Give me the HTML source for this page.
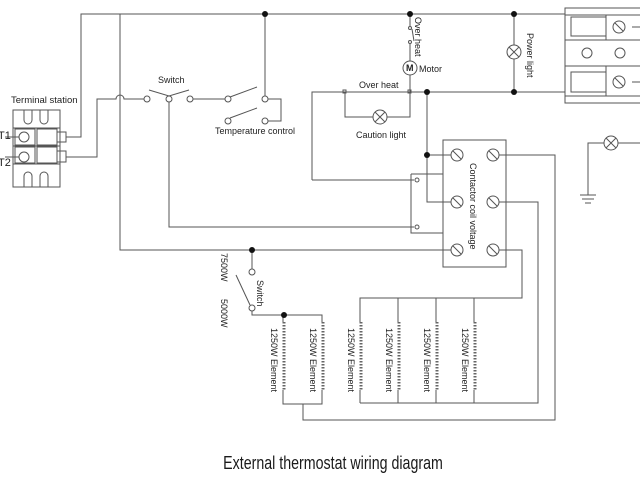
<!DOCTYPE html>
<html><head><style>
html,body{margin:0;padding:0;background:#fff;width:640px;height:480px;overflow:hidden}
text{font-family:"Liberation Sans",sans-serif;fill:#222}
</style></head><body>
<svg width="640" height="480" viewBox="0 0 640 480" xmlns="http://www.w3.org/2000/svg">
<g stroke="#555" stroke-width="1" fill="none">
<path d="M66 137 H81 V14 H565"/>
<path d="M66 157 H97 V99 H116 A4 4 0 0 1 124 99 H144"/>
<path d="M120 14 V250 H451"/>
<circle cx="147" cy="99" r="3" fill="#fff"/><circle cx="169" cy="99" r="3" fill="#fff"/><circle cx="190" cy="99" r="3" fill="#fff"/>
<path d="M149 90 L169 96 L189 90"/>
<path d="M169 102 V227 H414"/>
<path d="M193 99 H225"/>
<circle cx="228" cy="99" r="3" fill="#fff"/><circle cx="265" cy="99" r="3" fill="#fff"/>
<circle cx="228" cy="121" r="3" fill="#fff"/><circle cx="265" cy="121" r="3" fill="#fff"/>
<path d="M230 97 L257 87 M230 118 L257 108"/>
<path d="M265 14 V96 M268 99 H281 V121 H268"/>
<path d="M410 14 V26 M410 44 V61 M410 75 V92"/>
<circle cx="410" cy="28" r="1.5"/><circle cx="410" cy="42" r="1.5"/>
<path d="M412 29 L414 41"/>
<circle cx="410" cy="68" r="7"/>
<path d="M312 180 V92 H565"/>
<rect x="343" y="90" width="3" height="3"/><rect x="408" y="90" width="3" height="3"/>
<path d="M345 92 V117 H373 M387 117 H410 V92"/>
<circle cx="380" cy="117" r="7"/><path d="M375 112 L385 122 M385 112 L375 122"/>
<path d="M514 14 V45 M514 59 V92"/>
<circle cx="514" cy="52" r="7"/><path d="M509 47 L519 57 M519 47 L509 57"/>
<rect x="443" y="140" width="63" height="127"/>
<path d="M427 92 V202 H451 M427 155 H451"/>
<path d="M312 180 H414"/>
<path d="M411 174 V233 H443 M411 174 H443"/>
<circle cx="417" cy="180" r="2"/><circle cx="417" cy="227" r="2"/>
<circle cx="457" cy="155" r="6"/><circle cx="493" cy="155" r="6"/>
<circle cx="457" cy="202" r="6"/><circle cx="493" cy="202" r="6"/>
<circle cx="457" cy="250" r="6"/><circle cx="493" cy="250" r="6"/>
<path d="M453 151 L461 159 M489 151 L497 159 M453 198 L461 206 M489 198 L497 206 M453 246 L461 254 M489 246 L497 254"/>
<path d="M499 155 H555 V420 H303 V404"/>
<path d="M499 202 H538 V403 H360"/>
<path d="M499 250 H522 V298 H360 V322 M398 298 V322 M436 298 V322 M474 298 V322"/>
<path d="M283 315 H322 V322 M283 315 V322"/>
<path d="M283 390 V404 H322 V390 M360 390 V403 M398 390 V403 M436 390 V403 M474 390 V403"/>
<g stroke="#666">
<path d="M284 322 V390 M323 322 V390 M361 322 V390 M399 322 V390 M437 322 V390 M475 322 V390" stroke-dasharray="1.5 1.5" stroke-width="3"/>
</g>
<path d="M252 250 V269"/>
<circle cx="252" cy="272" r="3" fill="#fff"/><circle cx="252" cy="308" r="3" fill="#fff"/>
<path d="M236 275 L250 305"/>
<path d="M252 311 V315 H283"/>
<rect x="13" y="110" width="47" height="77"/>
<path d="M13 128 H60 M13 146 H60 M13 164 H60"/>
<rect x="15" y="129" width="20" height="16"/><rect x="15" y="147" width="20" height="16"/>
<circle cx="24" cy="137" r="5"/><circle cx="24" cy="157" r="5"/>
<rect x="37" y="129" width="20" height="16"/><rect x="37" y="147" width="20" height="16"/>
<path d="M57 132 H66 V142 H57 M57 151 H66 V162 H57 M5 137 H19 M5 157 H19"/>
<path d="M24 110 V120 A4 4 0 0 0 32 120 V110 M40 110 V120 A4 4 0 0 0 48 120 V110"/>
<path d="M24 187 V176 A4 4 0 0 1 32 176 V187 M40 187 V176 A4 4 0 0 1 48 176 V187"/>
<rect x="565" y="8" width="80" height="95"/>
<path d="M565 15 H640 M565 40 H640 M565 66 H640 M565 96 H640"/>
<rect x="571" y="17" width="35" height="19"/><rect x="571" y="72" width="35" height="20"/>
<path d="M606 15 V40 M606 66 V96 M632 27 H640 M632 82 H640"/>
<circle cx="619" cy="27" r="6"/><circle cx="619" cy="82" r="6"/>
<path d="M615 23 L623 31 M615 78 L623 86"/>
<circle cx="587" cy="53" r="5"/><circle cx="620" cy="53" r="5"/>
<circle cx="611" cy="143" r="7"/><path d="M606 138 L616 148 M616 138 L606 148"/>
<path d="M604 143 H588 V195 M618 143 H640 M580 195 H596 M582 199 H594 M585 203 H591"/>
</g>
<g fill="#111">
<circle cx="265" cy="14" r="3"/><circle cx="410" cy="14" r="3"/><circle cx="514" cy="14" r="3"/>
<circle cx="427" cy="92" r="3"/><circle cx="514" cy="92" r="3"/><circle cx="427" cy="155" r="3"/>
<circle cx="252" cy="250" r="3"/><circle cx="284" cy="315" r="3"/>
</g>
<g font-size="9">
<text x="11" y="103" font-size="9.5">Terminal station</text>
<text x="-2" y="139" font-size="11">T1</text>
<text x="-2" y="166" font-size="11">T2</text>
<text x="158" y="83">Switch</text>
<text x="215" y="134">Temperature control</text>
<text x="359" y="88">Over heat</text>
<text x="356" y="138">Caution light</text>
<text x="419" y="72">Motor</text>
<text x="406" y="71" font-size="9" font-weight="bold">M</text>
<text transform="translate(415,17) rotate(90)">Over heat</text>
<text transform="translate(527,33) rotate(90)">Power light</text>
<text transform="translate(470,163) rotate(90)">Contactor coil voltage</text>
<text transform="translate(221,253) rotate(90)">7500W</text>
<text transform="translate(221,299) rotate(90)">5000W</text>
<text transform="translate(257,280) rotate(90)">Switch</text>
<text transform="translate(271,328) rotate(90)">1250W Element</text>
<text transform="translate(310,328) rotate(90)">1250W Element</text>
<text transform="translate(348,328) rotate(90)">1250W Element</text>
<text transform="translate(386,328) rotate(90)">1250W Element</text>
<text transform="translate(424,328) rotate(90)">1250W Element</text>
<text transform="translate(462,328) rotate(90)">1250W Element</text>
</g>
<text x="333" y="469" font-size="18" text-anchor="middle" transform="translate(333,0) scale(0.79,1) translate(-333,0)" style="fill:#1a1a1a">External thermostat wiring diagram</text>
</svg>
</body></html>
